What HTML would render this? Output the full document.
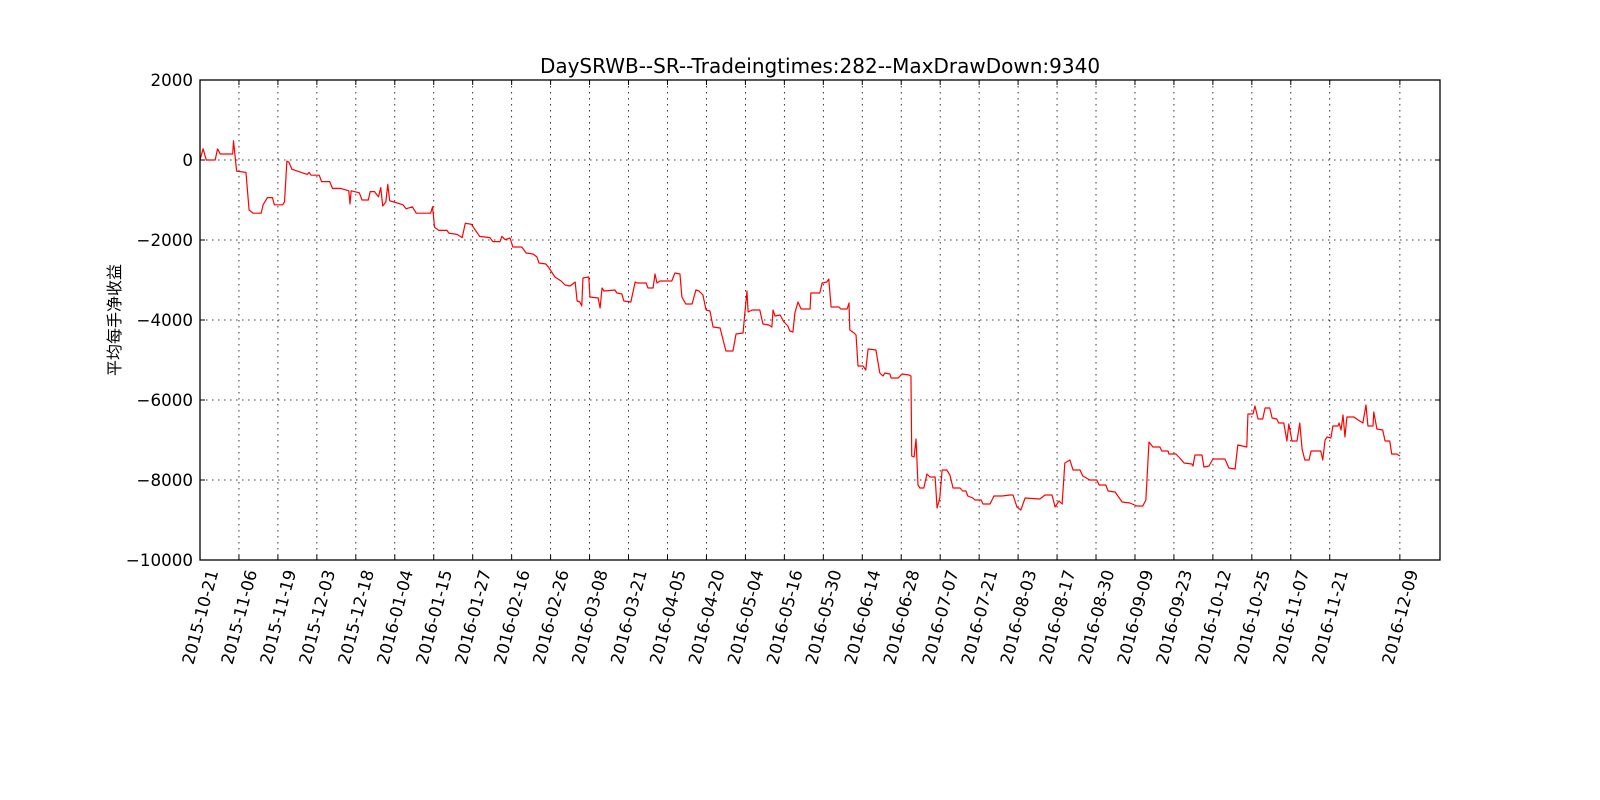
<!DOCTYPE html>
<html><head><meta charset="utf-8">
<style>
html,body{margin:0;padding:0;background:#fff;}
svg{display:block;font-family:"DejaVu Sans","Liberation Sans","Noto Sans CJK SC",sans-serif;}
</style></head>
<body>
<svg id="chart" width="1600" height="800" viewBox="0 0 1600 800" xmlns="http://www.w3.org/2000/svg">
<rect width="1600" height="800" fill="#fff"/>
<text x="820" y="73" font-size="20" text-anchor="middle">DaySRWB--SR--Tradeingtimes:282--MaxDrawDown:9340</text>
<text transform="translate(120,320) rotate(-90)" font-size="16" text-anchor="middle" style='font-family:"Noto Sans CJK SC",sans-serif'>平均每手净收益</text>
<g id="grid"></g>
<g id="ticks"></g>
<g id="series"></g>
<rect x="200" y="80" width="1240" height="480" fill="none" stroke="#000" stroke-width="1.3"/>
</svg>
<script>
const tradeIdx = [0,0.8,1.6,3.9,4.5,5.2,8.4,8.6,9.4,11.8,12.6,13.6,15.7,16.2,17.3,18.6,19.1,21.2,21.7,22.3,22.8,23.6,25.1,27.5,28.0,28.5,30.6,31.2,33.3,34.0,36.1,38.2,38.5,38.8,40.9,41.6,43.2,43.7,44.8,45.8,46.4,46.9,47.7,48.2,48.7,49.8,52.1,52.9,54.5,55.5,59.2,59.7,60.2,61.3,63.4,63.9,66.0,67.3,68.1,69.7,70.5,71.8,74.4,75.2,77.0,77.5,78.3,79.6,
80.3,82.6,83.7,85.5,86.5,87.0,88.8,89.6,91.1,92.7,93.7,95.0,96.3,96.8,97.5,98.0,98.3,99.8,100.1,102.2,102.7,103.2,103.7,106.5,107.0,108.3,108.8,110.6,111.7,112.2,114.5,115.0,116.3,116.8,117.3,118.1,121.1,121.9,123.2,123.7,124.7,126.3,127.3,128.1,129.1,129.9,130.9,131.7,133.5,135.0,136.8,137.6,139.4,139.6,140.4,140.7,141.7,143.7,144.5,146.0,146.8,147.1,147.6,148.9,149.9,150.9,151.4,152.2,152.7,153.5,154.3,156.6,
156.8,159.1,159.7,160.9,161.4,162.0,164.0,164.5,166.1,166.6,166.8,167.9,168.4,168.9,170.2,170.9,171.5,173.5,174.5,175.3,175.8,177.1,177.4,179.2,180.2,182.0,182.5,182.7,183.3,183.8,184.0,184.3,184.8,185.8,186.6,187.4,188.7,189.2,189.9,190.5,191.7,192.5,193.3,195.1,195.8,196.6,197.1,198.4,198.9,200.5,201.0,202.8,203.8,205.9,207.9,208.7,
209.7,210.7,211.8,215.6,216.9,218.7,219.5,220.5,221.3,222.0,223.3,224.1,225.9,226.6,228.4,230.2,230.8,232.5,233.1,234.9,236.7,238.7,240.5,242.0,242.8,243.6,244.6,246.4,246.9,248.5,248.7,250.5,251.5,252.6,254.6,254.9,255.4,257.2,257.7,259.0,260.0,263.1,264.1,265.7,266.4,268.7,269.0,270.3,270.8,271.6,272.8,273.4,274.6,275.2,276.4,276.9,278.2,279.0,279.5,280.3,281.6,282.3,282.9,283.6,284.7,285.2,287.7,288.2,288.8,289.3,290.3,290.8,292.1,292.4,292.9,293.4,293.9,294.4,296.2,297.3,298.5,299.3,299.8,301.1,301.3,302.1,303.6,304.2,305.4,305.9,307.2,308];
const netProfit = [0,280,0,0,280,150,150,480,-280,-310,-1250,-1330,-1330,-1120,-940,-940,-1120,-1120,-1050,-30,-50,-230,-280,-360,-310,-380,-380,-540,-540,-710,-710,-770,-1100,-770,-820,-1000,-1000,-790,-790,-920,-690,-1150,-1050,-610,-1020,-1050,-1120,-1220,-1170,-1330,-1330,-1170,-1680,-1760,-1760,-1830,-1860,-1940,-1580,-1610,-1730,-1910,-1940,-2040,-2040,-1910,-1990,-1950,
-2175,-2175,-2325,-2350,-2425,-2575,-2600,-2700,-2925,-3025,-3125,-3150,-3050,-3525,-3550,-3650,-2950,-2925,-3425,-3450,-3700,-3200,-3275,-3250,-3325,-3350,-3525,-3550,-3050,-3075,-3075,-3200,-3200,-2850,-3075,-3025,-3025,-2825,-2850,-3425,-3600,-3600,-3250,-3275,-3375,-3750,-3775,-4175,-4200,-4775,-4775,-4350,-4325,-4100,-3275,-3800,-3750,-3750,-4100,-4125,-4175,-3750,-3900,-3875,-4050,-4150,-4275,-4300,-3825,-3550,-3725,-3725,
-3325,-3325,-3075,-3050,-2975,-3675,-3675,-3725,-3725,-3575,-4250,-4325,-4375,-5150,-5150,-5250,-4725,-4750,-5325,-5400,-5325,-5350,-5450,-5450,-5350,-5375,-5400,-7400,-7425,-6975,-7425,-8125,-8200,-8200,-7850,-7925,-7925,-8700,-8450,-7750,-7750,-7875,-8200,-8200,-8275,-8275,-8400,-8450,-8500,-8500,-8600,-8600,-8400,-8400,-8375,-8375,
-8675,-8750,-8450,-8475,-8375,-8375,-8675,-8525,-8600,-7575,-7500,-7750,-7750,-7900,-8000,-8000,-8125,-8125,-8275,-8300,-8550,-8575,-8650,-8650,-8500,-7050,-7175,-7175,-7275,-7275,-7350,-7350,-7450,-7575,-7600,-7650,-7375,-7375,-7675,-7650,-7475,-7475,-7700,-7725,-7125,-7175,-6350,-6350,-6150,-6475,-6475,-6200,-6200,-6450,-6475,-6575,-6575,-7025,-6600,-7025,-7025,-6575,-7225,-7500,-7500,-7275,-7275,-7500,-7000,-6925,-6950,-6650,-6650,-6575,-6750,-6375,-6925,-6425,-6425,-6500,-6575,-6125,-6650,-6650,-6300,-6725,-6750,-7025,-7025,-7350,-7350,-7400];
const xTickIdx = [0,10,20,30,40,50,60,70,80,90,100,110,120,130,140,150,160,170,180,190,200,210,220,230,240,250,260,270,280,290,308];
const xTickLabels = ["2015-10-21","2015-11-06","2015-11-19","2015-12-03","2015-12-18","2016-01-04","2016-01-15","2016-01-27","2016-02-16","2016-02-26","2016-03-08","2016-03-21","2016-04-05","2016-04-20","2016-05-04","2016-05-16","2016-05-30","2016-06-14","2016-06-28","2016-07-07","2016-07-21","2016-08-03","2016-08-17","2016-08-30","2016-09-09","2016-09-23","2016-10-12","2016-10-25","2016-11-07","2016-11-21","2016-12-09"];
const yTicks = [2000,0,-2000,-4000,-6000,-8000,-10000];
const yTickLabels = ["2000","0","\u22122000","\u22124000","\u22126000","\u22128000","\u221210000"];

const NS = "http://www.w3.org/2000/svg";
const L=200,R=1440,T=80,B=560, XMAX=318.3, YMIN=-10000, YMAX=2000;
const xs = i => L + i/XMAX*(R-L);
const ys = v => B - (v-YMIN)/(YMAX-YMIN)*(B-T);
function mk(tag, attrs, parent){const e=document.createElementNS(NS,tag);for(const k in attrs)e.setAttribute(k,attrs[k]);parent.appendChild(e);return e;}
const grid=document.getElementById('grid'), ticks=document.getElementById('ticks'), series=document.getElementById('series');

xTickIdx.forEach((t,k)=>{
  const x=xs(t);
  const g=mk('line',{x1:x,x2:x,y1:T,y2:B,stroke:'#000','stroke-width':0.8,'stroke-dasharray':'1.5,4.5'},grid);
  
  
  const tk=mk('path',{d:`M${x},${B}v-5M${x},${T}v5`,stroke:'#000','stroke-width':1},ticks);
  
  
  const lb=mk('text',{transform:`translate(${x},617) rotate(-75)`,'text-anchor':'middle','dominant-baseline':'central','font-size':16.7},ticks);
  lb.textContent=xTickLabels[k];
  
  
});
yTicks.forEach((v,k)=>{
  const y=ys(v);
  const g=mk('line',{x1:L,x2:R,y1:y,y2:y,stroke:'#000','stroke-width':0.8,'stroke-dasharray':'1.5,4.5'},grid);
  
  
  const tk=mk('path',{d:`M${L},${y}h5M${R},${y}h-5`,stroke:'#000','stroke-width':1},ticks);
  
  
  const lb=mk('text',{x:193,y:y+6,'text-anchor':'end','font-size':16.7},ticks);
  lb.textContent=yTickLabels[k];
  
  
});
const pts=tradeIdx.map((t,i)=>xs(t).toFixed(2)+','+ys(netProfit[i]).toFixed(2)).join(' ');
const line=mk('polyline',{points:pts,fill:'none',stroke:'#ff0000','stroke-width':1.2,'stroke-linejoin':'round'},series);


</script>
</body></html>
